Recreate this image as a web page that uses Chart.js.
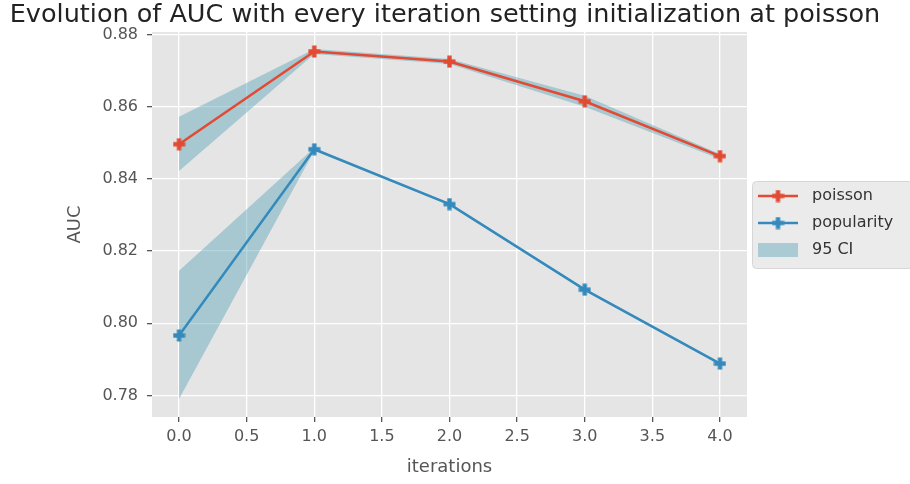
<!DOCTYPE html>
<html>
<head>
<meta charset="utf-8">
<script src="https://cdn.jsdelivr.net/npm/chart.js@4/dist/chart.umd.min.js"></script>
<style>
  html, body { margin: 0; padding: 0; background: #fff; }
  #wrap { width: 910px; height: 484px; }
</style>
</head>
<body>
<div id="wrap"><canvas id="aucChart" width="910" height="484"></canvas></div>
<script>
const iterations = [0, 1, 2, 3, 4];

const poissonAuc = [0.8496, 0.8753, 0.8725, 0.8615, 0.8463];
const poissonLow = [0.8422, 0.8746, 0.8718, 0.8600, 0.8455];
const poissonHigh = [0.8572, 0.8760, 0.8732, 0.8630, 0.8469];

const popularityAuc = [0.7966, 0.8482, 0.8330, 0.8093, 0.7888];
const popularityLow = [0.7790, 0.8478, 0.8327, 0.8090, 0.7885];
const popularityHigh = [0.8145, 0.8486, 0.8333, 0.8096, 0.7891];

const xTicks = [0, 0.5, 1, 1.5, 2, 2.5, 3, 3.5, 4];
const yTicks = [0.78, 0.80, 0.82, 0.84, 0.86, 0.88];

const seriesNames = ["poisson", "popularity", "95 CI"];
const titleText = "Evolution of AUC with every iteration setting initialization at poisson";

const RED = "#E24A33";
const BLUE = "#348ABD";
const BAND = "rgba(80, 160, 178, 0.42)";
const FONT = "'DejaVu Sans', sans-serif";

function pts(ys) {
  return iterations.map((x, i) => ({ x: x, y: ys[i] }));
}

// filled "P" style marker
function makePlus(color) {
  const c = document.createElement("canvas");
  c.width = 13; c.height = 13;
  const g = c.getContext("2d");
  g.fillStyle = color;
  g.fillRect(4.3, 0.5, 4.4, 12);
  g.fillRect(0.5, 4.3, 12, 4.4);
  return c;
}

const redPlus = makePlus(RED);
const bluePlus = makePlus(BLUE);

const bgPlugin = {
  id: "bg",
  beforeDraw(chart) {
    const { ctx, chartArea: a } = chart;
    ctx.save();
    ctx.fillStyle = "#ffffff";
    ctx.fillRect(0, 0, chart.width, chart.height);
    ctx.fillStyle = "#E5E5E5";
    ctx.fillRect(a.left, a.top, a.right - a.left, a.bottom - a.top);
    ctx.restore();
  }
};

const titleLegendPlugin = {
  id: "titleLegend",
  afterDraw(chart) {
    const ctx = chart.ctx;
    ctx.save();
    ctx.fillStyle = "#222";
    ctx.font = "25.5px " + FONT;
    ctx.textAlign = "center";
    ctx.textBaseline = "middle";
    ctx.fillText(titleText, 445, 15);

    // legend box
    const lx = 752, ly = 181, lw = 160, lh = 87;
    ctx.fillStyle = "#EBEBEB";
    ctx.strokeStyle = "#D6D6D6";
    ctx.lineWidth = 1;
    ctx.beginPath();
    ctx.roundRect(lx + 0.5, ly + 0.5, lw, lh, 4);
    ctx.fill();
    ctx.stroke();

    const rows = [196, 223, 250];
    const colors = [RED, BLUE];
    const marks = [redPlus, bluePlus];
    for (let i = 0; i < 2; i++) {
      ctx.strokeStyle = colors[i];
      ctx.lineWidth = 2.5;
      ctx.beginPath();
      ctx.moveTo(758, rows[i]);
      ctx.lineTo(798, rows[i]);
      ctx.stroke();
      ctx.drawImage(marks[i], 771.5, rows[i] - 6.5);
    }
    ctx.fillStyle = BAND;
    ctx.fillRect(758, rows[2] - 7, 40, 14);

    ctx.fillStyle = "#333";
    ctx.font = "16px " + FONT;
    ctx.textAlign = "left";
    seriesNames.forEach((name, i) => ctx.fillText(name, 812, rows[i]));
    ctx.restore();
  }
};

function band(data, fill) {
  return {
    data: data,
    borderWidth: 0,
    pointRadius: 0,
    backgroundColor: BAND,
    fill: fill,
    order: 2
  };
}

new Chart(document.getElementById("aucChart"), {
  type: "line",
  data: {
    datasets: [
      {
        label: "poisson",
        data: pts(poissonAuc),
        borderColor: RED,
        borderWidth: 2.5,
        pointStyle: redPlus,
        pointRadius: 7,
        fill: false,
        order: 1
      },
      {
        label: "popularity",
        data: pts(popularityAuc),
        borderColor: BLUE,
        borderWidth: 2.5,
        pointStyle: bluePlus,
        pointRadius: 7,
        fill: false,
        order: 1
      },
      band(pts(poissonHigh), "+1"),
      band(pts(poissonLow), false),
      band(pts(popularityHigh), "+1"),
      band(pts(popularityLow), false)
    ]
  },
  options: {
    responsive: false,
    animation: false,
    layout: { padding: { top: 32, right: 163, left: 0, bottom: 0 } },
    plugins: {
      legend: { display: false },
      title: { display: false },
      tooltip: { enabled: false }
    },
    scales: {
      x: {
        type: "linear",
        min: -0.2,
        max: 4.2,
        afterBuildTicks: s => { s.ticks = xTicks.map(v => ({ value: v })); },
        afterFit: s => { s.height = 67; },
        border: { display: false },
        grid: { color: "#ffffff", lineWidth: 1.3, tickColor: "#555", tickLength: 5 },
        ticks: {
          color: "#555",
          font: { family: FONT, size: 16 },
          padding: 5,
          maxRotation: 0,
          callback: v => v.toFixed(1)
        },
        title: {
          display: true,
          text: "iterations",
          color: "#555",
          font: { family: FONT, size: 18 },
          padding: { top: 4, bottom: 6 }
        }
      },
      y: {
        min: 0.774,
        max: 0.8807,
        afterBuildTicks: s => { s.ticks = yTicks.map(v => ({ value: v })); },
        afterFit: s => { s.width = 152; },
        border: { display: false },
        grid: { color: "#ffffff", lineWidth: 1.3, tickColor: "#555", tickLength: 5 },
        ticks: {
          color: "#555",
          font: { family: FONT, size: 16 },
          padding: 9,
          callback: v => v.toFixed(2)
        },
        title: {
          display: true,
          text: "AUC",
          color: "#555",
          font: { family: FONT, size: 18 },
          padding: { top: 65, bottom: 0 }
        }
      }
    }
  },
  plugins: [bgPlugin, titleLegendPlugin]
});
</script>
</body>
</html>
